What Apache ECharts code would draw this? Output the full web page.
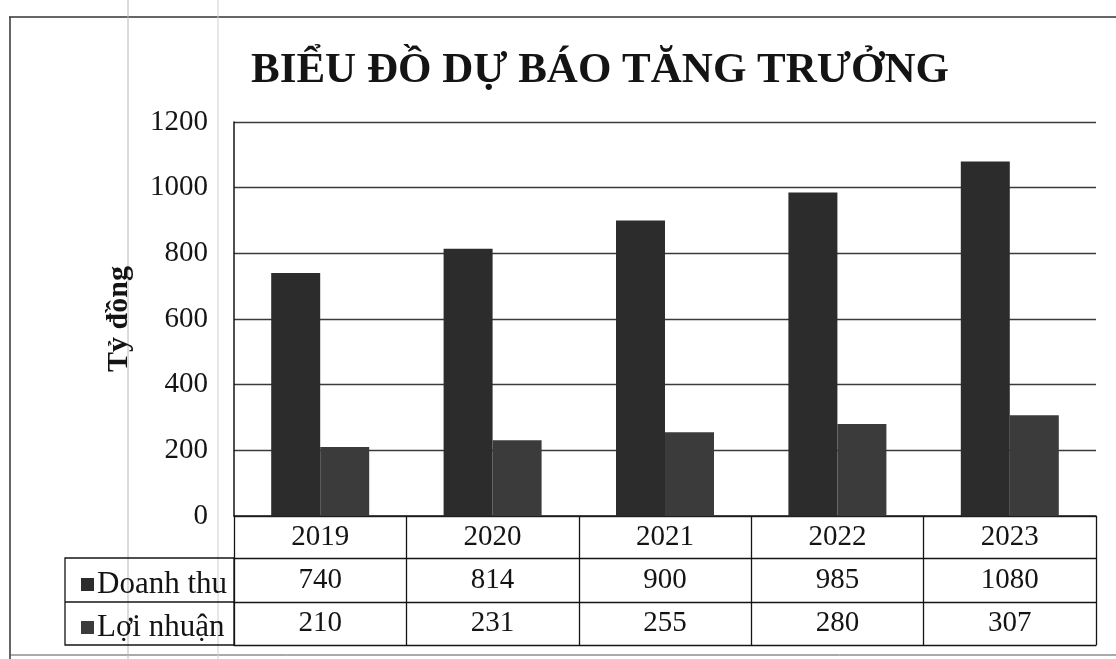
<!DOCTYPE html>
<html>
<head>
<meta charset="utf-8">
<script src="https://cdn.jsdelivr.net/npm/echarts@6/dist/echarts.min.js"></script>
<style>
  html, body { margin: 0; padding: 0; background: #fff; }
  #chart { width: 1116px; height: 659px; }
</style>
</head>
<body>
<div id="chart"></div>
<script>
const years = ['2019', '2020', '2021', '2022', '2023'];
const doanhThu = [740, 814, 900, 985, 1080];
const loiNhuan = [210, 231, 255, 280, 307];
const seriesNames = ['Doanh thu', 'Lợi nhuận'];
const yTicks = { min: 0, max: 1200, interval: 200 };

// layout
const G = { left: 234, right: 20, top: 122, height: 394 };
const ROW = 43;
const FONT = 'Liberation Serif, Times New Roman, serif';
const INK = '#141414';

const chart = echarts.init(document.getElementById('chart'));
const gridBottom = G.top + G.height;

// extra bottom axes just to draw the table's horizontal rules
const tableRules = [1, 2, 3].map(i => ({
    type: 'category',
    data: years,
    position: 'bottom',
    offset: i * ROW - (i === 1 ? 1 : 0),
    axisLine: { show: true, lineStyle: { color: INK, width: 1.3 } },
    axisTick: { show: false },
    axisLabel: { show: false },
    splitLine: { show: false }
}));

chart.setOption({
    backgroundColor: '#fff',
    animation: false,
    title: {
        text: 'BIỂU ĐỒ DỰ BÁO TĂNG TRƯỞNG',
        left: 246,
        top: 44,
        textStyle: { fontFamily: FONT, fontWeight: 'bold', fontSize: 43, color: INK }
    },
    legend: {
        data: seriesNames,
        orient: 'vertical',
        left: 76,
        top: gridBottom + ROW + 5,
        itemWidth: 13,
        itemHeight: 13,
        itemGap: 12,
        icon: 'rect',
        textStyle: { fontFamily: FONT, fontSize: 31, color: INK, lineHeight: 31, padding: [0, 0, 0, -2] }
    },
    grid: { left: G.left, right: G.right, top: G.top, height: G.height, containLabel: false },
    xAxis: [{
        type: 'category',
        data: years,
        axisLine: { show: true, lineStyle: { color: INK, width: 1.5 } },
        axisTick: { show: true, length: ROW * 3, lineStyle: { color: INK, width: 1.3 } },
        axisLabel: {
            margin: 0,
            interval: 0,
            formatter: (v, i) => `{c|${v}}\n{c|${doanhThu[i]}}\n{c|${loiNhuan[i]}}`,
            rich: { c: { fontFamily: FONT, fontSize: 29, color: INK, lineHeight: ROW, align: 'center' } }
        }
    }, ...tableRules],
    yAxis: {
        type: 'value',
        min: yTicks.min,
        max: yTicks.max,
        interval: yTicks.interval,
        name: 'Tỷ đồng',
        nameLocation: 'middle',
        nameRotate: 90,
        nameGap: 100,
        nameTextStyle: { fontFamily: FONT, fontWeight: 'bold', fontSize: 30, color: INK },
        axisLine: { show: true, lineStyle: { color: INK, width: 1.5 } },
        axisTick: { show: false },
        axisLabel: { margin: 26, fontFamily: FONT, fontSize: 29, color: INK, formatter: v => String(v) },
        splitLine: { lineStyle: { color: '#3a3a3a', width: 1.3 } }
    },
    series: [{
        name: seriesNames[0],
        type: 'bar',
        data: doanhThu,
        barWidth: 49,
        barGap: '0%',
        itemStyle: { color: '#2c2c2c' }
    }, {
        name: seriesNames[1],
        type: 'bar',
        data: loiNhuan,
        barWidth: 49,
        itemStyle: { color: '#3b3b3b' }
    }],
    graphic: [
        // outer frame of the scanned page
        { type: 'line', shape: { x1: 9, y1: 17, x2: 1116, y2: 17 }, style: { stroke: '#333', lineWidth: 1.5 } },
        { type: 'line', shape: { x1: 10, y1: 17, x2: 10, y2: 659 }, style: { stroke: '#333', lineWidth: 1.5 } },
        { type: 'line', shape: { x1: 10, y1: 655, x2: 1116, y2: 655 }, style: { stroke: '#555', lineWidth: 1 } },
        // faint fold lines on the scan
        { type: 'line', shape: { x1: 128, y1: 0, x2: 128, y2: 659 }, style: { stroke: '#b8b8b8', lineWidth: 1 } },
        { type: 'line', shape: { x1: 218, y1: 0, x2: 218, y2: 659 }, style: { stroke: '#cfcfcf', lineWidth: 1 } },
        // legend cell box left of the data table
        { type: 'rect', shape: { x: 65, y: gridBottom + ROW - 1, width: G.left - 65, height: ROW * 2 + 1 },
          style: { fill: 'none', stroke: INK, lineWidth: 1.3 } },
        { type: 'line', shape: { x1: 65, y1: gridBottom + ROW * 2, x2: G.left, y2: gridBottom + ROW * 2 },
          style: { stroke: INK, lineWidth: 1.3 } }
    ]
});
</script>
</body>
</html>
